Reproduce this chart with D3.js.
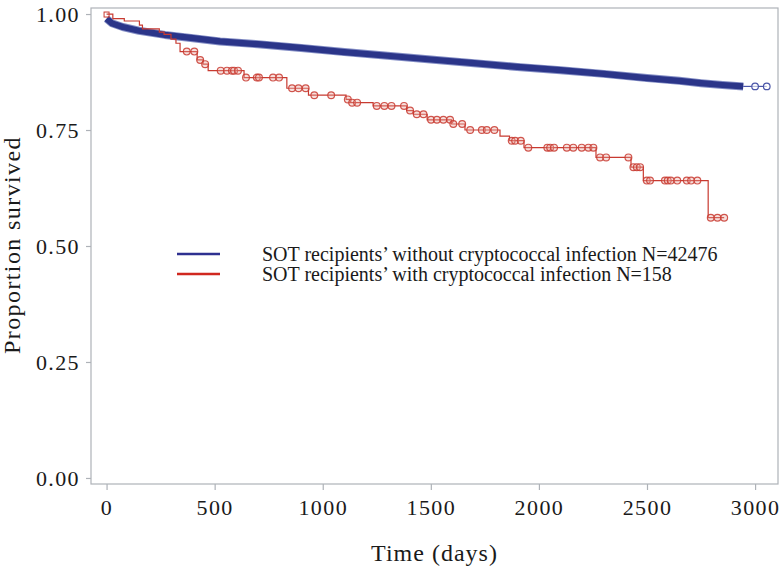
<!DOCTYPE html>
<html>
<head>
<meta charset="utf-8">
<script src="https://cdn.jsdelivr.net/npm/d3@7"></script>
<style>
  html, body { margin: 0; padding: 0; background: #ffffff; }
  svg { display: block; }
  text { font-family: "Liberation Serif", "Times New Roman", serif; fill: #1a1a1a; }
</style>
</head>
<body>
<svg id="chart" width="780" height="570"></svg>
<script>
// ---- data ----
// Blue series (without cryptococcal infection), N=42476: survival read at times (days)
const blueTimes = [0, 25, 75, 150, 270, 400, 525, 700, 900, 1100, 1300, 1500, 1700, 1900, 2100, 2300, 2500, 2650, 2750, 2850, 2945];
const blueSurv  = [0.990, 0.980, 0.972, 0.964, 0.955, 0.948, 0.941, 0.935, 0.927, 0.918, 0.910, 0.902, 0.894, 0.886, 0.879, 0.871, 0.862, 0.856, 0.851, 0.847, 0.844];
const blueTailTimes = [2945, 3000, 3054];
const blueTailSurv  = [0.844, 0.844, 0.844];
const blueTailCensor = [3000, 3054];

// Red series (with cryptococcal infection), N=158: event times and survival after each step
const redEventTimes = [0, 29, 82, 152, 166, 244, 266, 298, 321, 340, 419, 446, 470, 636, 834, 934, 1108, 1126, 1233, 1388, 1419, 1483, 1596, 1658, 1820, 1864, 1931, 2264, 2426, 2483, 2783];
const redEventSurv  = [1.000, 0.990, 0.985, 0.976, 0.968, 0.961, 0.956, 0.946, 0.937, 0.919, 0.901, 0.892, 0.878, 0.863, 0.840, 0.825, 0.816, 0.809, 0.802, 0.792, 0.784, 0.772, 0.763, 0.750, 0.737, 0.727, 0.712, 0.691, 0.670, 0.641, 0.561];
const redEndTime = 2857;
// Red censored observations (times, days)
const redCensorTimes = [371, 406, 433, 456, 528, 557, 580, 590, 608, 645, 695, 705, 770, 798, 858, 888, 921, 961, 1039, 1116, 1136, 1159, 1250, 1285, 1318, 1376, 1404, 1435, 1466, 1501, 1528, 1558, 1589, 1604, 1645, 1682, 1736, 1759, 1794, 1874, 1890, 1916, 1951, 2039, 2052, 2070, 2129, 2159, 2198, 2229, 2252, 2283, 2311, 2414, 2437, 2453, 2468, 2499, 2514, 2583, 2596, 2610, 2640, 2684, 2704, 2733, 2795, 2826, 2857];

const xTicks = [0, 500, 1000, 1500, 2000, 2500, 3000];
const yTicks = [0.00, 0.25, 0.50, 0.75, 1.00];
const legendLabels = [
  "SOT recipients\u2019 without cryptococcal infection N=42476",
  "SOT recipients\u2019 with cryptococcal infection N=158"
];
const seriesColors = ["#2b3589", "#c83a30"];
const legendColors = ["#2e3090", "#d0281f"];

// ---- layout ----
const svg = d3.select("#chart");
const L = 91, R = 778, T = 8, B = 484;
const x = d3.scaleLinear().domain([-72, 3106]).range([L, R]);
const y = d3.scaleLinear().domain([-0.013, 1.013]).range([B, T]);

// frame
svg.append("rect").attr("x", L).attr("y", T).attr("width", R - L).attr("height", B - T)
  .attr("fill", "none").attr("stroke", "#aeb2b8").attr("stroke-width", 1.2);

// axes
const xAxis = svg.append("g").attr("transform", `translate(0,${B})`)
  .call(d3.axisBottom(x).tickValues(xTicks).tickFormat(d3.format("d")).tickSize(6).tickPadding(9));
const yAxis = svg.append("g").attr("transform", `translate(${L},0)`)
  .call(d3.axisLeft(y).tickValues(yTicks).tickFormat(d3.format(".2f")).tickSize(5).tickPadding(6));
[xAxis, yAxis].forEach(g => {
  g.select(".domain").remove();
  g.selectAll(".tick line").attr("stroke", "#aeb2b8").attr("stroke-width", 1.2);
  g.selectAll(".tick text").attr("font-family", "Liberation Serif, serif").attr("font-size", 22)
    .attr("letter-spacing", "1.4px").attr("fill", "#1a1a1a");
});
yAxis.selectAll(".tick text").attr("dy", "0.34em");

// axis titles
svg.append("text").attr("x", (L + R) / 2).attr("y", 561).attr("text-anchor", "middle")
  .attr("font-size", 24).attr("letter-spacing", "1px").text("Time (days)");
svg.append("text").attr("transform", `translate(20,${245}) rotate(-90)`).attr("text-anchor", "middle")
  .attr("font-size", 24).attr("letter-spacing", "1.4px").text("Proportion survived");

// ---- blue series: dense censor marks form a thick band ----
const blueData = blueTimes.map((t, i) => [t, blueSurv[i]]);
const lineLin = d3.line().x(d => x(d[0])).y(d => y(d[1])).curve(d3.curveLinear);
svg.append("path").attr("d", lineLin(blueData)).attr("fill", "none")
  .attr("stroke", "#5865b0").attr("stroke-width", 8).attr("stroke-linejoin", "round").attr("opacity", 0.75);
svg.append("path").attr("d", lineLin(blueData)).attr("fill", "none")
  .attr("stroke", seriesColors[0]).attr("stroke-width", 6.2).attr("stroke-linejoin", "round");
const blueTail = blueTailTimes.map((t, i) => [t, blueTailSurv[i]]);
svg.append("path").attr("d", lineLin(blueTail)).attr("fill", "none")
  .attr("stroke", "#4a55a8").attr("stroke-width", 1.2);
svg.selectAll(".bc").data(blueTailCensor).enter().append("circle")
  .attr("cx", d => x(d)).attr("cy", y(0.844)).attr("r", 3.3)
  .attr("fill", "#ffffff").attr("fill-opacity", 0.6).attr("stroke", "#4a55a8").attr("stroke-width", 1.2);

// ---- red series: step function ----
const redData = redEventTimes.map((t, i) => [t, redEventSurv[i]]);
redData.push([redEndTime, redEventSurv[redEventSurv.length - 1]]);
const lineStep = d3.line().x(d => x(d[0])).y(d => y(d[1])).curve(d3.curveStepAfter);
svg.append("path").attr("d", lineStep(redData)).attr("fill", "none")
  .attr("stroke", seriesColors[1]).attr("stroke-width", 1.2);

function survAt(t) {
  let s = redEventSurv[0];
  for (let i = 0; i < redEventTimes.length; i++) {
    if (redEventTimes[i] <= t) s = redEventSurv[i]; else break;
  }
  return s;
}
svg.selectAll(".rc").data(redCensorTimes).enter().append("circle")
  .attr("cx", d => x(d)).attr("cy", d => y(survAt(d))).attr("r", 3.4)
  .attr("fill", "#e8a49c").attr("fill-opacity", 0.35)
  .attr("stroke", seriesColors[1]).attr("stroke-opacity", 0.85).attr("stroke-width", 1.2);

// start marker (small square at time 0)
svg.append("rect").attr("x", x(0) - 2.5).attr("y", y(1.0) - 2).attr("width", 5).attr("height", 5)
  .attr("fill", "none").attr("stroke", seriesColors[1]).attr("stroke-width", 1);

// ---- legend ----
const lg = svg.append("g");
legendLabels.forEach((lab, i) => {
  const yy = 254 + i * 20;
  lg.append("line").attr("x1", 177).attr("x2", 220).attr("y1", yy).attr("y2", yy)
    .attr("stroke", legendColors[i]).attr("stroke-width", 2.6);
  lg.append("text").attr("x", 262).attr("y", yy + 7).attr("font-size", 20).text(lab);
});
</script>
</body>
</html>
